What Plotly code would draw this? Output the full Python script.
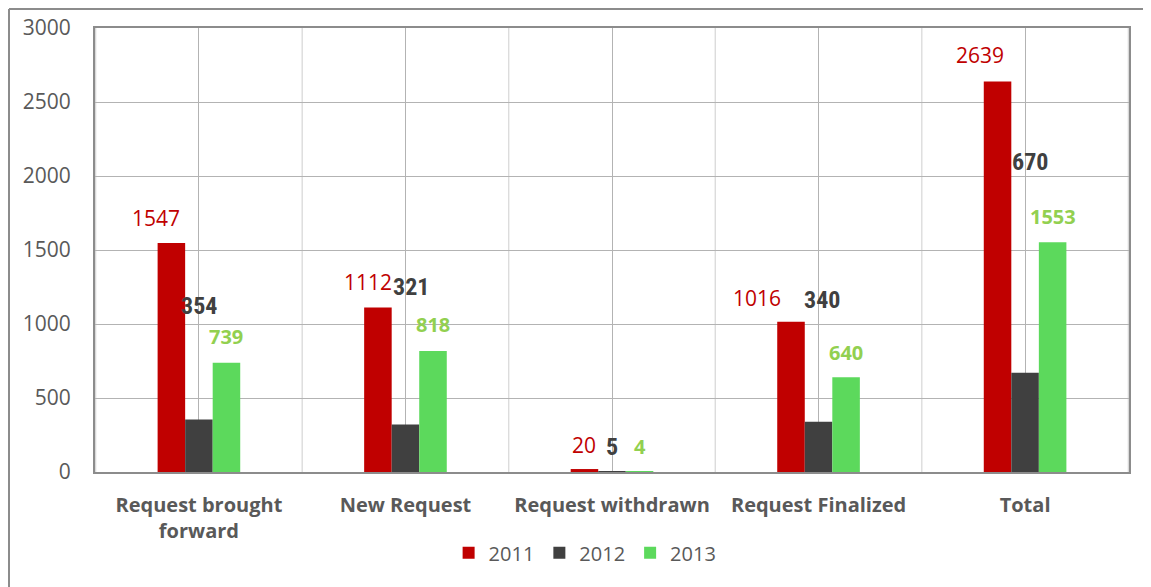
import plotly.graph_objects as go

categories = ["Request brought<br>forward", "New Request", "Request withdrawn", "Request Finalized", "Total"]
years = ["2011", "2012", "2013"]
values_2011 = [1547, 1112, 20, 1016, 2639]
values_2012 = [354, 321, 5, 340, 670]
values_2013 = [739, 818, 4, 640, 1553]

# label placement nudges (pixels): horizontal shift, vertical lift above bar top
label_dx_2011 = [-15, -10, 0, -34, -18]
label_dx_2012 = [0, 6, 0, 3, 5]
label_dx_2013 = [0, 0, 0, 0, 0]
label_lift_2011 = [25, 25, 24, 24, 26]
label_lift_2012 = [114, 137, 24, 122, 211]
label_lift_2013 = [26, 26, 25, 25, 26]

# page body has an 8px margin; size the figure so it ends at the window edge
W, H = 1143, 579
ML, MR, MT, MB = 87, 22, 20, 115
PW, PH = W - ML - MR, H - MT - MB
BARGAP = 0.6

bar_colors = ["#c00000", "#404040", "#5cd95c"]
label_fonts = [
    dict(family="Open Sans", size=21, color="#c00000"),
    dict(family="Roboto Condensed, DejaVu Sans Condensed, Roboto", size=24, color="#404040", weight="bold"),
    dict(family="Open Sans", size=20, color="#92d050", weight="bold"),
]
series = [values_2011, values_2012, values_2013]
dxs = [label_dx_2011, label_dx_2012, label_dx_2013]
lifts = [label_lift_2011, label_lift_2012, label_lift_2013]

fig = go.Figure()
for name, vals, col in zip(years, series, bar_colors):
    fig.add_trace(go.Bar(x=categories, y=vals, name=name, marker=dict(color=col, line=dict(width=0))))

cat_px = PW / len(categories)
bar_px = cat_px * (1 - BARGAP) / len(years)
annotations = []
for i, (vals, dx, lift, fnt) in enumerate(zip(series, dxs, lifts, label_fonts)):
    for j, v in enumerate(vals):
        annotations.append(dict(
            x=categories[j], y=v, xref="x", yref="y", text=str(v), showarrow=False,
            xanchor="center", yanchor="middle",
            xshift=(i - 1) * bar_px + dx[j], yshift=lift[j], font=fnt))

shapes = []
for j in range(len(categories) + 1):
    shapes.append(dict(type="line", xref="x", yref="paper", x0=j - 0.5, x1=j - 0.5, y0=0, y1=1,
                       line=dict(color="#d9d9d9", width=1.3), layer="below"))
# outer chart frame (left and top edges visible)
fx = (1 - ML) / PW
fy = 1 + (MT - 1) / PH
shapes.append(dict(type="line", xref="paper", yref="paper", x0=fx, x1=fx, y0=fy, y1=-0.4,
                   line=dict(color="#8c8c8c", width=2)))
shapes.append(dict(type="line", xref="paper", yref="paper", x0=fx, x1=1.2, y0=fy, y1=fy,
                   line=dict(color="#8c8c8c", width=2)))

fig.update_layout(
    width=W, height=H,
    margin=dict(l=ML, r=MR, t=MT, b=MB, autoexpand=False),
    paper_bgcolor="white", plot_bgcolor="white",
    barmode="group", bargap=BARGAP, bargroupgap=0,
    font=dict(family="Open Sans", color="#595959"),
    showlegend=True,
    legend=dict(orientation="h", x=0.474, xanchor="center", y=-0.182, yanchor="middle",
                font=dict(size=20, color="#595959"), itemwidth=30, tracegroupgap=0),
    annotations=annotations,
    shapes=shapes,
    xaxis=dict(showgrid=True, gridcolor="#b3b3b3", gridwidth=1, showline=True, mirror=True,
               linecolor="#8c8c8c", linewidth=2, ticks="", ticklabelstandoff=14, automargin=False,
               tickfont=dict(size=20, color="#595959", weight="bold")),
    yaxis=dict(range=[0, 3000], dtick=500, showgrid=True, gridcolor="#b3b3b3", gridwidth=1,
               showline=True, mirror=True, linecolor="#8c8c8c", linewidth=2, zeroline=False,
               automargin=False,
               ticks="", ticklabelstandoff=18, tickfont=dict(size=21, color="#595959")),
)

fig.write_html("out.html")
